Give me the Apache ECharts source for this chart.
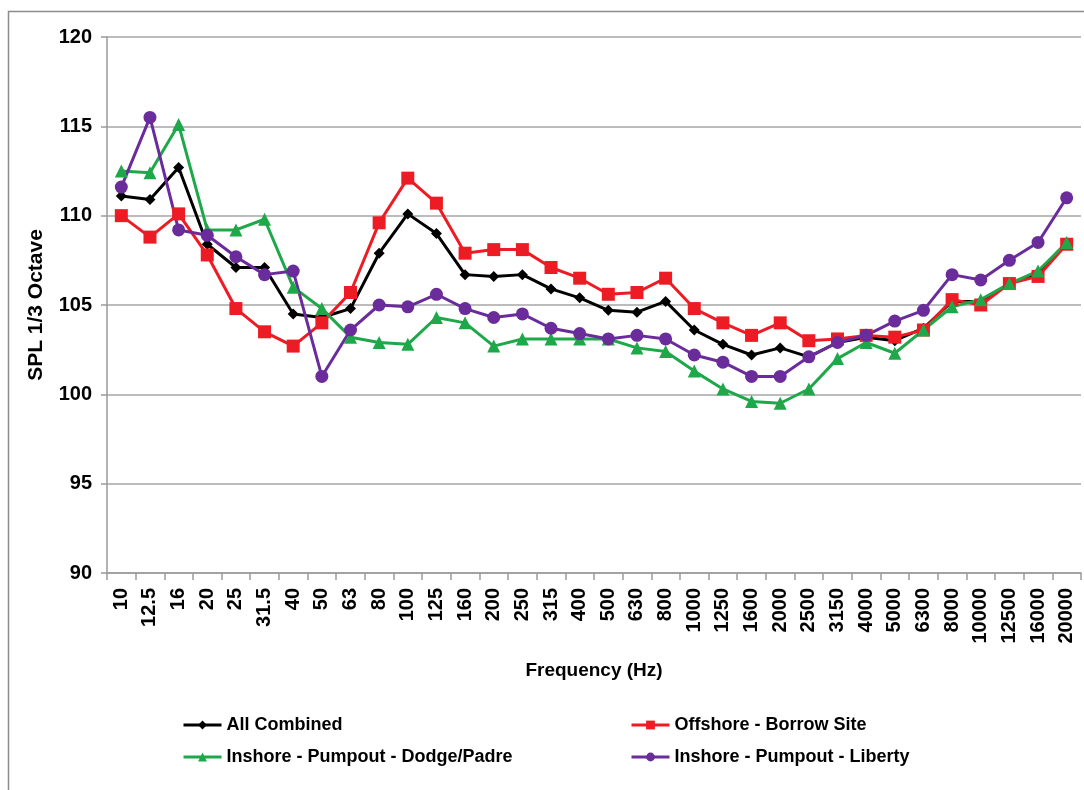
<!DOCTYPE html>
<html>
<head>
<meta charset="utf-8">
<script src="https://cdn.jsdelivr.net/npm/echarts@6/dist/echarts.min.js"></script>
<style>
html,body{margin:0;padding:0;background:#fff;}
#chart{width:1084px;height:790px;}
</style>
</head>
<body>
<div id="chart"></div>
<script>
var categories = ['10','12.5','16','20','25','31.5','40','50','63','80','100','125','160','200','250','315','400','500','630','800','1000','1250','1600','2000','2500','3150','4000','5000','6300','8000','10000','12500','16000','20000'];
var allCombined = [111.1,110.9,112.7,108.4,107.1,107.1,104.5,104.3,104.8,107.9,110.1,109.0,106.7,106.6,106.7,105.9,105.4,104.7,104.6,105.2,103.6,102.8,102.2,102.6,102.1,102.9,103.2,103.0,103.7,105.2,105.2,106.2,106.8,108.5];
var offshore = [110.0,108.8,110.1,107.8,104.8,103.5,102.7,104.0,105.7,109.6,112.1,110.7,107.9,108.1,108.1,107.1,106.5,105.6,105.7,106.5,104.8,104.0,103.3,104.0,103.0,103.1,103.3,103.2,103.6,105.3,105.0,106.2,106.6,108.4];
var dodgePadre = [112.5,112.4,115.1,109.2,109.2,109.8,106.0,104.8,103.2,102.9,102.8,104.3,104.0,102.7,103.1,103.1,103.1,103.1,102.6,102.4,101.3,100.3,99.6,99.5,100.3,102.0,102.9,102.3,103.6,104.9,105.3,106.2,106.9,108.5];
var liberty = [111.6,115.5,109.2,108.9,107.7,106.7,106.9,101.0,103.6,105.0,104.9,105.6,104.8,104.3,104.5,103.7,103.4,103.1,103.3,103.1,102.2,101.8,101.0,101.0,102.1,102.9,103.3,104.1,104.7,106.7,106.4,107.5,108.5,111.0];
var seriesNames = ['All Combined','Offshore - Borrow Site','Inshore - Pumpout - Dodge/Padre','Inshore - Pumpout - Liberty'];
var yTicks = {min: 90, max: 120, interval: 5};

var FONT = '"Liberation Sans", Arial, sans-serif';
var chart = echarts.init(document.getElementById('chart'), null, {renderer: 'canvas'});

function mkSeries(name, data, color, symbol, size) {
  return {
    name: name, type: 'line', data: data,
    symbol: symbol, symbolSize: size,
    lineStyle: {color: color, width: 3},
    itemStyle: {color: color},
    emphasis: {disabled: true},
    animation: false
  };
}

var legendText = {fontFamily: FONT, fontWeight: 'bold', fontSize: 18, color: '#000'};

chart.setOption({
  backgroundColor: '#fff',
  animation: false,
  graphic: [{
    type: 'rect', silent: true,
    shape: {x: 8.5, y: 11.5, width: 1200, height: 900},
    style: {fill: 'none', stroke: '#8c8c8c', lineWidth: 1.5}
  }],
  grid: {left: 107, top: 37, right: 3, bottom: 217, containLabel: false},
  legend: [{
    orient: 'vertical', left: 177, top: 711,
    itemWidth: 38, itemHeight: 11, itemGap: 14,
    lineStyle: {width: 3},
    textStyle: legendText,
    data: [seriesNames[0], seriesNames[2]]
  }, {
    orient: 'vertical', left: 625, top: 711,
    itemWidth: 38, itemHeight: 11, itemGap: 14,
    lineStyle: {width: 3},
    textStyle: legendText,
    data: [seriesNames[1], seriesNames[3]]
  }],
  xAxis: {
    type: 'category', data: categories, boundaryGap: true,
    name: 'Frequency (Hz)', nameLocation: 'middle', nameGap: 88,
    nameTextStyle: {fontFamily: FONT, fontWeight: 'bold', fontSize: 19, color: '#000'},
    axisLine: {lineStyle: {color: '#9a9a9a', width: 1.5}},
    axisTick: {show: true, length: 7, alignWithLabel: false, lineStyle: {color: '#9a9a9a', width: 1.5}},
    axisLabel: {rotate: 90, interval: 0, margin: 15, fontFamily: FONT, fontWeight: 'bold', fontSize: 20, color: '#000'},
    splitLine: {show: false}
  },
  yAxis: {
    type: 'value', min: yTicks.min, max: yTicks.max, interval: yTicks.interval,
    name: 'SPL 1/3 Octave', nameLocation: 'middle', nameGap: 60, nameRotate: 90,
    nameTextStyle: {fontFamily: FONT, fontWeight: 'bold', fontSize: 21, color: '#000'},
    axisLine: {show: true, lineStyle: {color: '#9a9a9a', width: 1.5}},
    axisTick: {show: true, length: 6, lineStyle: {color: '#9a9a9a', width: 1.5}},
    axisLabel: {margin: 15, fontFamily: FONT, fontWeight: 'bold', fontSize: 20, color: '#000'},
    splitLine: {show: true, lineStyle: {color: '#a6a6a6', width: 1.5}}
  },
  series: [
    mkSeries(seriesNames[0], allCombined, '#000000', 'diamond', 11),
    mkSeries(seriesNames[1], offshore, '#ED1C24', 'rect', 13),
    mkSeries(seriesNames[2], dodgePadre, '#1FA84A', 'triangle', 13),
    mkSeries(seriesNames[3], liberty, '#6A2C9A', 'circle', 13)
  ]
});
</script>
</body>
</html>
